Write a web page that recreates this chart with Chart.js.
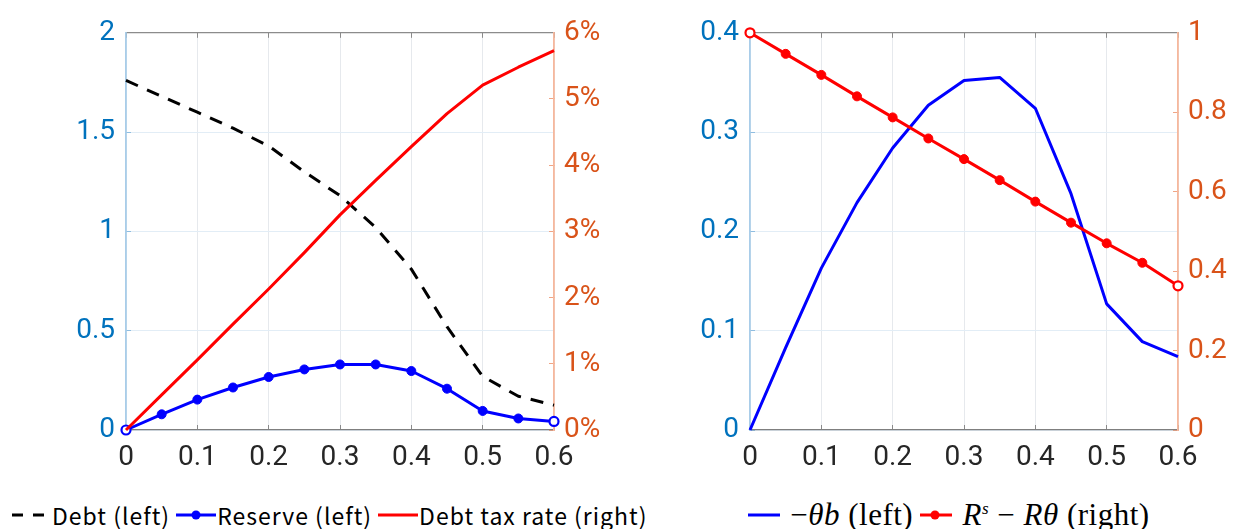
<!DOCTYPE html>
<html>
<head>
<meta charset="utf-8">
<script src="https://cdn.jsdelivr.net/npm/chart.js@4.4.1/dist/chart.umd.min.js"></script>
<style>
  html, body { margin: 0; padding: 0; background: #fff; }
  body { width: 1233px; height: 529px; position: relative; overflow: hidden; }
  #leftChart { position: absolute; left: 0; top: 0; }
  #rightChart { position: absolute; left: 620px; top: 0; }
  .legend { position: absolute; top: 499px; height: 32px; display: flex; align-items: center; white-space: nowrap; color: #000; }
  .legend svg { display: block; flex: none; }
  #legendLeft { left: 8px; font-family: "Noto Sans CJK JP", "Noto Sans", sans-serif; font-size: 23px; letter-spacing: 1px; }
  #legendRight { left: 746px; font-family: "Liberation Serif", "DejaVu Serif", serif; font-size: 31px; letter-spacing: 0.5px; }
  .math { font-style: italic; }
  .gap { display: inline-block; width: 5px; }
</style>
</head>
<body>
<canvas id="leftChart" width="620" height="490"></canvas>
<canvas id="rightChart" width="613" height="490"></canvas>

<div class="legend" id="legendLeft">
  <svg width="44" height="10"><line x1="4" y1="5" x2="42" y2="5" stroke="#000" stroke-width="3" stroke-dasharray="11 10"/></svg>
  <span>Debt (left)</span>
  <span class="gap"></span>
  <svg width="42" height="12"><line x1="1" y1="6" x2="41" y2="6" stroke="#0000ff" stroke-width="3"/><circle cx="21" cy="6" r="4.5" fill="#0000ff"/></svg>
  <span>Reserve (left)</span>
  <span class="gap"></span>
  <svg width="42" height="10"><line x1="1" y1="5" x2="41" y2="5" stroke="#ff0000" stroke-width="3"/></svg>
  <span>Debt tax rate (right)</span>
</div>

<div class="legend" id="legendRight">
  <svg width="36" height="10"><line x1="2" y1="5" x2="34" y2="5" stroke="#0000ff" stroke-width="3"/></svg>
  <span>&nbsp;<span>&minus;</span><span class="math">&theta;b</span> (left)</span>
  <span class="gap"></span>
  <svg width="36" height="12"><line x1="2" y1="6" x2="34" y2="6" stroke="#ff0000" stroke-width="3"/><circle cx="17" cy="6" r="4.5" fill="#ff0000"/></svg>
  <span>&nbsp;<span class="math">R<sup style="font-size:17px">s</sup></span> &minus; <span class="math">R&theta;</span> (right)</span>
</div>

<script>
// Shared horizontal grid: theta from 0 to 0.6 in steps of 0.05
const thetaGrid = [0, 0.05, 0.1, 0.15, 0.2, 0.25, 0.3, 0.35, 0.4, 0.45, 0.5, 0.55, 0.6];

// Left panel series
const debtLevel     = [1.76, 1.68, 1.60, 1.52, 1.43, 1.30, 1.18, 1.02, 0.81, 0.52, 0.27, 0.17, 0.125];
const reserveLevel  = [0, 0.079, 0.153, 0.214, 0.267, 0.305, 0.33, 0.33, 0.297, 0.208, 0.096, 0.058, 0.043];
const debtTaxRatePct = [0, 0.53, 1.06, 1.60, 2.13, 2.68, 3.25, 3.77, 4.28, 4.78, 5.21, 5.48, 5.73];

// Right panel series
const negThetaB   = [0, 0.083, 0.163, 0.229, 0.284, 0.327, 0.352, 0.355, 0.324, 0.238, 0.127, 0.089, 0.074];
const spreadRsRth = [1.0, 0.947, 0.894, 0.84, 0.787, 0.734, 0.682, 0.629, 0.575, 0.522, 0.470, 0.421, 0.363];

// Axis tick values
const thetaTicks       = [0, 0.1, 0.2, 0.3, 0.4, 0.5, 0.6];
const debtAxisTicks    = [0, 0.5, 1, 1.5, 2];
const taxAxisTicks     = [0, 1, 2, 3, 4, 5, 6];
const thetaBAxisTicks  = [0, 0.1, 0.2, 0.3, 0.4];
const spreadAxisTicks  = [0, 0.2, 0.4, 0.6, 0.8, 1];

const BLUE_AX = '#0072BD';
const ORANGE_AX = '#D95319';
const TICK_FONT = { family: 'Roboto, "Noto Sans", sans-serif', size: 28 };

const pts = ys => ys.map((y, i) => ({ x: thetaGrid[i], y }));
const fmt = v => String(Number(v.toFixed(3)));
const fixedTicks = list => axis => { axis.ticks = list.map(v => ({ value: v })); };

// Hollow first/last markers, filled in between
const endHollow = (color, n) => Array.from({ length: n }, (_, i) => (i === 0 || i === n - 1) ? '#ffffff' : color);
const endWidth = n => Array.from({ length: n }, (_, i) => (i === 0 || i === n - 1) ? 2.2 : 1);

function axesFor(opts) {
  return {
    x: {
      type: 'linear', position: 'bottom', min: 0, max: 0.6,
      afterBuildTicks: fixedTicks(thetaTicks),
      afterFit: s => { s.height = 60; },
      grid: { color: '#e6e9ed', lineWidth: 1, tickLength: -5, tickColor: '#8a8a8a', tickWidth: 1 },
      border: { display: true, color: '#7f7f7f', width: 1.2 },
      ticks: { color: '#262626', font: TICK_FONT, padding: 16, maxRotation: 0, callback: v => fmt(v) }
    },
    xTop: {
      type: 'linear', position: 'top', min: 0, max: 0.6,
      afterBuildTicks: fixedTicks(thetaTicks),
      afterFit: s => { s.height = 0; },
      grid: { drawOnChartArea: false, tickLength: -5, tickColor: '#8a8a8a', tickWidth: 1 },
      border: { display: true, color: '#8c8c8c', width: 1.2 },
      ticks: { display: false }
    },
    yL: {
      type: 'linear', position: 'left', min: 0, max: opts.leftMax,
      afterBuildTicks: fixedTicks(opts.leftTicks),
      afterFit: s => { s.width = opts.leftWidth; },
      grid: { color: '#e2edf6', lineWidth: 1, tickLength: -5, tickColor: '#8fbde0', tickWidth: 1 },
      border: { display: true, color: '#a9cde9', width: 1.8 },
      ticks: { color: BLUE_AX, font: TICK_FONT, padding: 16, callback: opts.leftFmt }
    },
    yR: {
      type: 'linear', position: 'right', min: 0, max: opts.rightMax,
      afterBuildTicks: fixedTicks(opts.rightTicks),
      afterFit: s => { s.width = opts.rightWidth; },
      grid: { drawOnChartArea: false, tickLength: -5, tickColor: '#f0a585', tickWidth: 1 },
      border: { display: true, color: '#f6b89d', width: 1.8 },
      ticks: { color: ORANGE_AX, font: TICK_FONT, padding: 15, callback: opts.rightFmt }
    }
  };
}

const common = {
  responsive: false,
  animation: false,
  events: [],
  plugins: { legend: { display: false }, tooltip: { enabled: false } },
  elements: { line: { tension: 0, borderCapStyle: 'butt', borderJoinStyle: 'round' } }
};

// Left panel: debt, reserve and the debt tax rate
new Chart(document.getElementById('leftChart'), {
  type: 'line',
  data: {
    datasets: [
      {
        label: 'Debt tax rate (right)', data: pts(debtTaxRatePct), yAxisID: 'yR', xAxisID: 'x',
        borderColor: '#ff0000', borderWidth: 3, pointRadius: 0, order: 0, clip: false
      },
      {
        label: 'Reserve (left)', data: pts(reserveLevel), yAxisID: 'yL', xAxisID: 'x',
        borderColor: '#0000ff', borderWidth: 3, order: 1, clip: false,
        pointRadius: 4.5, pointBorderColor: '#0000ff',
        pointBackgroundColor: endHollow('#0000ff', reserveLevel.length),
        pointBorderWidth: endWidth(reserveLevel.length)
      },
      {
        label: 'Debt (left)', data: pts(debtLevel), yAxisID: 'yL', xAxisID: 'x',
        borderColor: '#000000', borderWidth: 3, borderDash: [13, 10], pointRadius: 0, order: 2, clip: false
      }
    ]
  },
  options: Object.assign({}, common, {
    layout: { padding: { top: 26, left: 0, right: 0, bottom: 0 } },
    scales: axesFor({
      leftMax: 2, leftTicks: debtAxisTicks, leftWidth: 126, leftFmt: v => fmt(v),
      rightMax: 6, rightTicks: taxAxisTicks, rightWidth: 66, rightFmt: v => fmt(v) + '%'
    })
  })
});

// Right panel: -theta*b and the spread R^s - R*theta
new Chart(document.getElementById('rightChart'), {
  type: 'line',
  data: {
    datasets: [
      {
        label: 'R^s - R theta (right)', data: pts(spreadRsRth), yAxisID: 'yR', xAxisID: 'x',
        borderColor: '#ff0000', borderWidth: 3, order: 0, clip: false,
        pointRadius: 4.5, pointBorderColor: '#ff0000',
        pointBackgroundColor: endHollow('#ff0000', spreadRsRth.length),
        pointBorderWidth: endWidth(spreadRsRth.length)
      },
      {
        label: '-theta b (left)', data: pts(negThetaB), yAxisID: 'yL', xAxisID: 'x',
        borderColor: '#0000ff', borderWidth: 3, pointRadius: 0, order: 1, clip: false
      }
    ]
  },
  options: Object.assign({}, common, {
    layout: { padding: { top: 26, left: 0, right: 0, bottom: 0 } },
    scales: axesFor({
      leftMax: 0.4, leftTicks: thetaBAxisTicks, leftWidth: 130, leftFmt: v => fmt(v),
      rightMax: 1, rightTicks: spreadAxisTicks, rightWidth: 55, rightFmt: v => fmt(v)
    })
  })
});
</script>
</body>
</html>
